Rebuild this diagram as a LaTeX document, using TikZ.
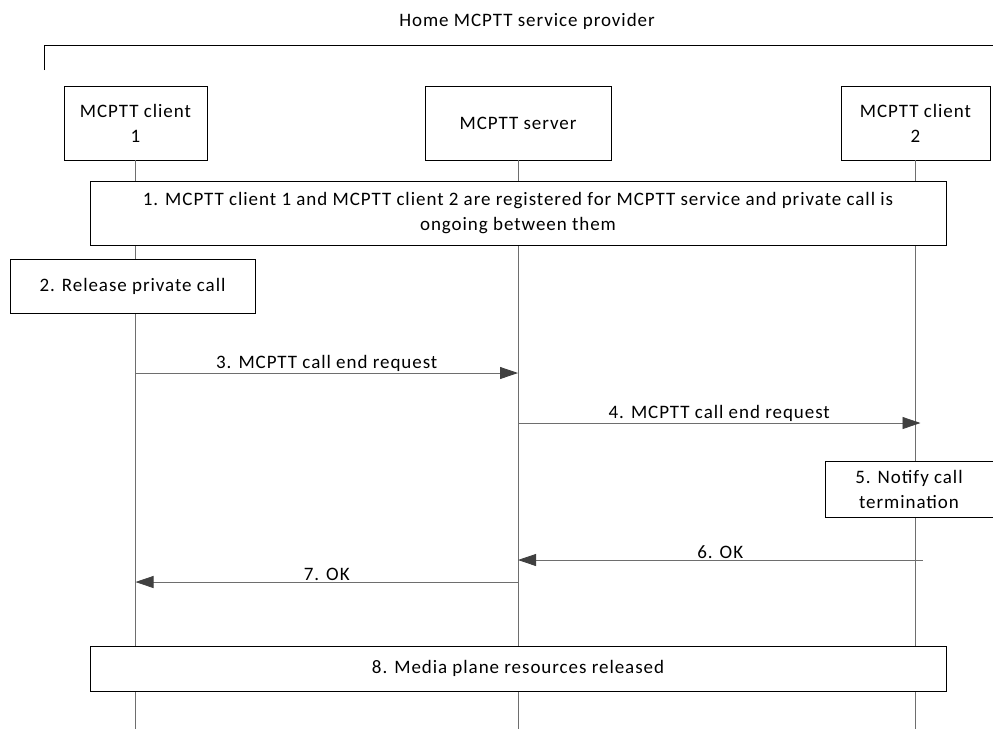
\documentclass[tikz,border=0pt]{standalone}
\usepackage{fontspec}
\setmainfont{Carlito}[LetterSpace=5]
\usepackage{xcolor}
\usetikzlibrary{positioning,arrows.meta}
\definecolor{lifegray}{RGB}{110,110,110}
\definecolor{headgray}{RGB}{64,64,64}

\begin{document}
\begin{tikzpicture}[x=1pt,y=1pt,every node/.style={font=\fontsize{19}{25}\selectfont},
  box/.style={draw,fill=white,line width=0.8pt,inner sep=0pt,align=center},
  life/.style={draw=lifegray,line width=0.8pt},
  msg/.style={draw=lifegray,line width=0.8pt,-{Triangle[length=18pt,width=12pt,color=headgray]}}]
\useasboundingbox (0,0) rectangle (993,-729);
% domain
\node (home) at (527,-21) {Home MCPTT service provider};
\draw[line width=0.8pt] (44,-70) -- (44,-45) -- (993,-45);
% entities
\node[box,minimum width=143,minimum height=74] (c1) at (135.5,-123) {MCPTT client\\1};
\node[box,minimum width=186,minimum height=74] (srv) at (518,-123) {MCPTT server};
\node[box,minimum width=149,minimum height=74] (c2) at (915.5,-123) {MCPTT client\\2};
\coordinate (bottom) at (0,-729);
\draw[life] (c1.south) -- (c1.south |- bottom);
\draw[life] (srv.south) -- (srv.south |- bottom);
\draw[life] (c2.south) -- (c2.south |- bottom);
% steps
\node[box,minimum width=856,minimum height=64] (s1) at (518,-213) {1. MCPTT client 1 and MCPTT client 2 are registered for MCPTT service and private call is\\ongoing between them};
\node[box,minimum width=245,minimum height=54] (s2) at (132.5,-286) {2. Release private call};
\coordinate (y3) at (0,-373);
\coordinate (y4) at (0,-423);
\draw[msg] (c1.south |- y3) -- node[above,inner sep=1pt] (m3) {3. MCPTT call end request} (srv.south |- y3);
\draw[msg] (srv.south |- y4) -- node[above,inner sep=1pt] (m4) {4. MCPTT call end request} ([xshift=5pt]c2.south |- y4);
\node[box,minimum width=168,minimum height=56] (s5) at (909,-489) {5. Notify call\\termination};
\coordinate (y6) at (0,-560);
\coordinate (y7) at (0,-582);
\draw[msg] ([xshift=7pt]c2.south |- y6) -- node[above,inner sep=1pt] (m6) {6. OK} (srv.south |- y6);
\draw[msg] (srv.south |- y7) -- node[above,inner sep=1pt] (m7) {7. OK} (c1.south |- y7);
\node[box,minimum width=856,minimum height=45] (s8) at (518,-668.5) {8. Media plane resources released};
\end{tikzpicture}
\end{document}
